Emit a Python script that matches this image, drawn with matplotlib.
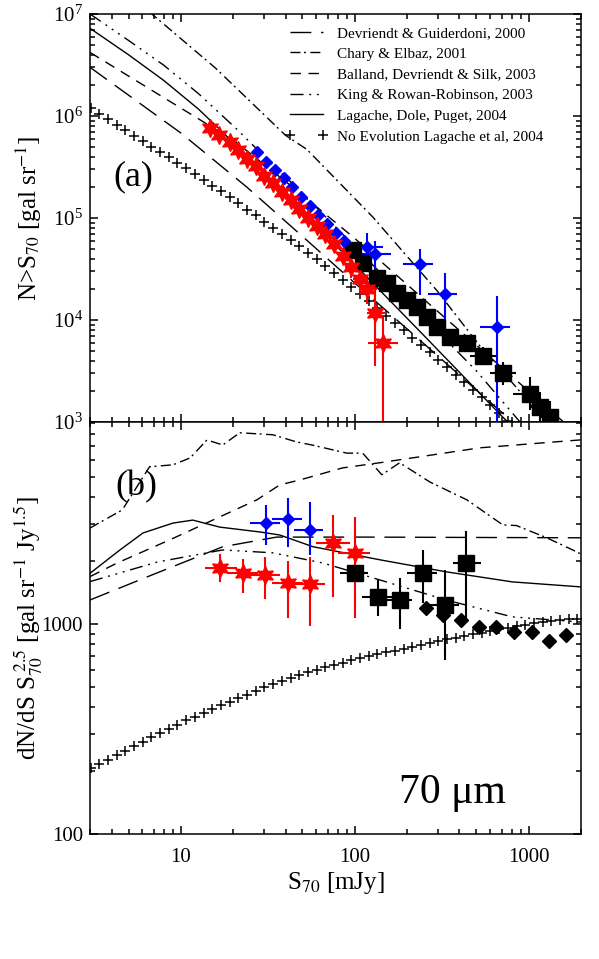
import matplotlib

matplotlib.use("Agg")

import matplotlib.pyplot as plt
import numpy as np
from matplotlib.ticker import FixedLocator, FuncFormatter, LogLocator, NullFormatter

plt.rcParams["font.family"] = ["Liberation Serif", "DejaVu Serif"]
plt.rcParams["mathtext.fontset"] = "stix"

# ---- model curves, panel (a): integral counts N(>S) [gal/sr] vs S [mJy] ----
chary_a_s = [5.0, 6.8, 15.8, 39.8, 53.0, 127, 296, 545, 809, 1259, 1413]
chary_a_n = [1.55e7, 1.0e7, 2.95e6, 6.5e5, 4.7e5, 1.02e5, 1.95e4, 5.1e3, 2.4e3, 1.0e3, 8.0e2]
king_a_s = [3.0, 5.0, 7.94, 12.6, 21.0, 31.6, 50.1, 100, 251, 501, 891, 1000]
king_a_n = [1.0e7, 5.5e6, 3.16e6, 1.66e6, 7.4e5, 3.7e5, 1.74e5, 5.25e4, 1.05e4, 3.16e3,
            1.0e3, 7.9e2]
lag_a_s = [3.0, 5.0, 7.94, 12.6, 20.0, 31.6, 50.1, 107, 259, 708, 891]
lag_a_n = [7.24e6, 3.98e6, 2.24e6, 1.17e6, 5.5e5, 2.51e5, 1.15e5, 3.1e4, 6.6e3, 1.12e3, 7.6e2]
bal_a_s = [3.0, 8.3, 20, 44, 100, 251, 631, 1585, 2000]
bal_a_n = [4.2e6, 1.45e6, 5.8e5, 2.0e5, 6.3e4, 1.58e4, 4.0e3, 1.0e3, 7.1e2]
dev_a_s = [3.0, 10, 24, 50, 100, 251, 631, 891]
dev_a_n = [3.0e6, 6.8e5, 2.0e5, 6.6e4, 2.3e4, 5.8e3, 1.45e3, 8.7e2]

# ---- model curves, panel (b): dN/dS S^2.5 ----
chary_b_s = [3, 4.6, 6.6, 9.0, 11.3, 14.1, 17.4, 21.8, 33.8, 46, 57, 90, 111, 143, 181,
             270, 440, 710, 850, 1270, 1790, 2000]
chary_b_v = [2860, 3490, 5600, 5720, 6170, 7510, 7110, 8130, 7950, 7360, 7100, 6500, 6500,
             5130, 5850, 4740, 3900, 2960, 2940, 2570, 2250, 2150]
bal_b_s = [3, 4.3, 8.6, 27.4, 37, 48.5, 85, 139, 523, 2000]
bal_b_v = [1680, 1950, 2510, 3900, 4590, 4850, 5530, 5850, 6890, 7520]
lag_b_s = [3, 4.46, 6.05, 9.0, 11.7, 16.7, 28.4, 37, 57.5, 139, 335, 805, 2000]
lag_b_v = [1742, 2250, 2710, 3020, 3120, 2890, 2740, 2650, 2330, 2020, 1770, 1585, 1500]
king_b_s = [3, 7.3, 17.4, 33.7, 65.5, 139, 335, 805, 2000]
king_b_v = [1590, 1970, 2250, 2180, 1950, 1620, 1300, 1080, 1020]
dev_b_s = [3, 7.3, 17.4, 35.5, 111, 2000]
dev_b_v = [1300, 1750, 2330, 2590, 2590, 2570]

# ---- no-evolution model (crosses), same flux grid for both panels ----
noev_s = [3.02, 3.39, 3.80, 4.27, 4.79, 5.37, 6.03, 6.76, 7.59, 8.51, 9.55, 10.7, 12.0, 13.5,
          15.1, 17.0, 19.1, 21.4, 24.0, 26.9, 30.2, 33.9, 38.0, 42.7, 47.9, 53.7, 60.3, 67.6,
          75.9, 85.1, 95.5, 107, 120, 135, 151, 170, 191, 214, 240, 269, 302, 339, 380, 427,
          479, 537, 603, 676, 759, 851, 955, 1072, 1202, 1349, 1514, 1698, 1905]
noev_n = [1.19e6, 1.05e6, 9.31e5, 8.22e5, 7.28e5, 6.43e5, 5.69e5, 5.02e5, 4.45e5, 3.93e5,
          3.48e5, 3.06e5, 2.69e5, 2.36e5, 2.07e5, 1.82e5, 1.60e5, 1.39e5, 1.21e5, 1.06e5,
          9.2e4, 8.0e4, 6.98e4, 6.08e4, 5.30e4, 4.57e4, 3.92e4, 3.37e4, 2.88e4, 2.47e4,
          2.12e4, 1.81e4, 1.53e4, 1.30e4, 1.10e4, 9.33e3, 7.92e3, 6.70e3, 5.68e3, 4.80e3,
          4.06e3, 3.44e3, 2.91e3, 2.46e3, 2.08e3, 1.75e3, 1.47e3, 1.23e3, 1.03e3, 871,
          741, 617, 525, 447, 372, 316, 269]
noev_v = [206, 216, 226, 238, 249, 262, 275, 288, 302, 316, 331, 347, 361, 377, 393, 409,
          427, 444, 461, 480, 499, 518, 537, 555, 571, 587, 604, 621, 637, 653, 670, 685,
          701, 716, 731, 746, 762, 778, 794, 811, 828, 843, 859, 875, 891, 908, 925, 942,
          959, 977, 993, 1007, 1021, 1033, 1042, 1052, 1059]

# ---- data, panel (a) ----
red_a_s = [14.7, 16.6, 19.1, 21.4, 24.0, 26.9, 30.2, 33.9, 38.0, 42.7, 47.9, 53.7, 60.3,
           67.6, 75.9, 85.1, 95.5, 107, 117, 130, 145]
red_a_n = [7.6e5, 6.5e5, 5.5e5, 4.6e5, 3.8e5, 3.2e5, 2.6e5, 2.2e5, 1.8e5, 1.5e5, 1.23e5,
           1.0e5, 8.3e4, 6.9e4, 5.5e4, 4.2e4, 3.3e4, 2.5e4, 2.0e4, 1.17e4, 5.9e3]
red_a_nlo = [7.1e5, 6.1e5, 5.1e5, 4.3e5, 3.5e5, 2.95e5, 2.4e5, 2.0e5, 1.65e5, 1.37e5, 1.12e5,
             9.0e4, 7.4e4, 6.0e4, 4.7e4, 3.5e4, 2.6e4, 1.9e4, 1.45e4, 3.5e3, 5e2]
red_a_nhi = [8.1e5, 6.9e5, 5.9e5, 4.9e5, 4.1e5, 3.45e5, 2.8e5, 2.4e5, 1.95e5, 1.63e5, 1.34e5,
             1.1e5, 9.2e4, 7.8e4, 6.3e4, 4.9e4, 4.0e4, 3.1e4, 2.6e4, 2.3e4, 1.07e4]
red_a_slo = [14.7, 16.6, 19.1, 21.4, 24.0, 26.9, 30.2, 33.9, 38.0, 42.7, 47.9, 53.7, 60.3,
             67.6, 75.9, 85.1, 88, 98, 105, 117, 119]
red_a_shi = [14.7, 16.6, 19.1, 21.4, 24.0, 26.9, 30.2, 33.9, 38.0, 42.7, 47.9, 53.7, 60.3,
             67.6, 75.9, 85.1, 104, 117, 134, 151, 177]

blue_a_s = [27.4, 30.9, 34.7, 38.9, 43.7, 49.0, 55.0, 61.7, 69.2, 77.6, 87.1, 117, 130, 237,
            329, 655]
blue_a_n = [4.47e5, 3.55e5, 2.95e5, 2.45e5, 2.0e5, 1.62e5, 1.32e5, 1.07e5, 8.7e4, 7.1e4,
            5.9e4, 5.2e4, 4.4e4, 3.5e4, 1.8e4, 8.5e3]
blue_a_nlo = [4.2e5, 3.3e5, 2.75e5, 2.25e5, 1.83e5, 1.47e5, 1.19e5, 9.5e4, 7.6e4, 6.1e4,
              5.0e4, 3.1e4, 2.3e4, 1.76e4, 5.5e3, 5e2]
blue_a_nhi = [4.75e5, 3.8e5, 3.15e5, 2.65e5, 2.17e5, 1.77e5, 1.45e5, 1.19e5, 9.8e4, 8.1e4,
              6.8e4, 7.1e4, 6.0e4, 5.0e4, 2.9e4, 1.7e4]
blue_a_slo = [27.4, 30.9, 34.7, 38.9, 43.7, 49.0, 55.0, 61.7, 69.2, 77.6, 87.1, 102, 110, 189,
              263, 525]
blue_a_shi = [27.4, 30.9, 34.7, 38.9, 43.7, 49.0, 55.0, 61.7, 69.2, 77.6, 87.1, 145, 162, 281,
              389, 776]

sq_a_s = [97.5, 111, 134, 153, 174, 200, 227, 259, 296, 352, 441, 545, 710, 1014, 1156, 1318]
sq_a_n = [4.9e4, 3.6e4, 2.6e4, 2.3e4, 1.82e4, 1.58e4, 1.35e4, 1.07e4, 8.5e3, 6.8e3, 5.9e3,
          4.4e3, 3.0e3, 1.9e3, 1.4e3, 1.12e3]
sq_a_nlo = [4.9e4, 3.6e4, 2.6e4, 2.3e4, 1.82e4, 1.58e4, 1.35e4, 1.07e4, 8.5e3, 6.8e3, 5.0e3,
            3.6e3, 2.3e3, 1.3e3, 9.0e2, 7.0e2]
sq_a_nhi = [4.9e4, 3.6e4, 2.6e4, 2.3e4, 1.82e4, 1.58e4, 1.35e4, 1.07e4, 8.5e3, 6.8e3, 6.9e3,
            5.4e3, 3.9e3, 2.75e3, 1.95e3, 1.6e3]
sq_a_slo = [97.5, 111, 134, 153, 174, 200, 227, 259, 296, 352, 400, 460, 600, 815, 1020, 1150]
sq_a_shi = [97.5, 111, 134, 153, 174, 200, 227, 259, 296, 352, 490, 650, 850, 1150, 1320, 1500]

# ---- data, panel (b) ----
red_b_s = [16.7, 22.8, 30.4, 41.4, 55.1, 75.0, 100]
red_b_v = [1840, 1740, 1710, 1560, 1550, 2420, 2170]
red_b_vlo = [1585, 1410, 1320, 1070, 980, 1350, 1070]
red_b_vhi = [2140, 2040, 2090, 2000, 2090, 3310, 3240]
red_b_slo = [13.7, 18.3, 24.4, 33.2, 44, 60, 80]
red_b_shi = [20.9, 27.8, 37.1, 50.5, 67, 94, 122]

blue_b_s = [30.8, 41.4, 55.0]
blue_b_v = [3020, 3150, 2810]
blue_b_vlo = [2380, 2330, 2130]
blue_b_vhi = [3690, 3970, 3790]
blue_b_slo = [25, 33.6, 44.7]
blue_b_shi = [37.1, 49.4, 65.8]

sq_b_s = [100, 136, 181, 247, 329, 438]
sq_b_v = [1740, 1350, 1300, 1740, 1230, 1945]
sq_b_vlo = [1650, 1090, 950, 1260, 674, 1045]
sq_b_vhi = [1840, 1620, 1660, 2240, 1810, 2755]
sq_b_slo = [82, 110, 152, 200, 270, 365]
sq_b_shi = [119, 170, 214, 295, 400, 535]

dia_b_s = [258, 321, 410, 518, 651, 824, 1038, 1309, 1648]
dia_b_v = [1190, 1100, 1045, 970, 970, 920, 920, 830, 885]

model_labels = [
    "Devriendt & Guiderdoni, 2000",
    "Chary & Elbaz, 2001",
    "Balland, Devriendt & Silk, 2003",
    "King & Rowan-Robinson, 2003",
    "Lagache, Dole, Puget, 2004",
    "No Evolution Lagache et al, 2004",
]

RED = "#ff0000"
BLUE = "#0000ff"
LW = 1.0
dash_dev = (15, 7)
dash_chary = (7.2, 2.5, 1.4, 3.2)
dash_bal = (7.5, 5.5)
dash_king = (9.4, 4.1, 1.4, 4.1, 1.4, 4.1, 1.4, 4.1)


def draw_models(ax, curves, noev_y):
    handles = []
    for (xs, ys), dashes in zip(curves, [dash_dev, dash_chary, dash_bal, dash_king, None]):
        if dashes is None:
            h, = ax.plot(xs, ys, color="k", lw=LW)
        else:
            h, = ax.plot(xs, ys, color="k", lw=LW, dashes=dashes)
        handles.append(h)
    h, = ax.plot(noev_s, noev_y, ls="none", marker="+", ms=6.5, mew=1.1, color="k")
    handles.append(h)
    return handles


def points(ax, s, y, slo, shi, ylo, yhi, color, marker, ms, z=5):
    s = np.array(s, float)
    y = np.array(y, float)
    ax.errorbar(s, y, xerr=[s - np.array(slo), np.array(shi) - s],
                yerr=[y - np.array(ylo), np.array(yhi) - y],
                fmt="none", ecolor=color, elinewidth=1.5, capsize=0, zorder=z)
    ax.plot(s, y, ls="none", marker=marker, ms=ms, color=color, mec=color, zorder=z + 1)


def style_axis(ax):
    ax.set_xscale("log")
    ax.set_yscale("log")
    ax.set_xlim(3, 2000)
    ax.xaxis.set_major_locator(FixedLocator([10, 100, 1000]))
    ax.xaxis.set_minor_locator(LogLocator(base=10, subs=np.arange(2, 10)))
    ax.xaxis.set_minor_formatter(NullFormatter())
    ax.yaxis.set_minor_formatter(NullFormatter())
    ax.tick_params(which="both", direction="in", top=True, right=True, width=1.1,
                   labelsize=15)
    ax.tick_params(which="major", length=6)
    ax.tick_params(which="minor", length=3.3)
    ax.tick_params(axis="y", pad=5)
    ax.tick_params(axis="x", pad=10)
    for sp in ax.spines.values():
        sp.set_linewidth(1.1)


fig = plt.figure(figsize=(5.99, 9.59), dpi=100)
ax_a = fig.add_axes([0.1503, 0.5600, 0.8197, 0.4254])
ax_b = fig.add_axes([0.1503, 0.1304, 0.8197, 0.4296])

# ---- panel (a) ----
handles = draw_models(ax_a, [(dev_a_s, dev_a_n), (chary_a_s, chary_a_n), (bal_a_s, bal_a_n),
                             (king_a_s, king_a_n), (lag_a_s, lag_a_n)], noev_n)
points(ax_a, sq_a_s, sq_a_n, sq_a_slo, sq_a_shi, sq_a_nlo, sq_a_nhi, "k", "s", 11)
points(ax_a, blue_a_s, blue_a_n, blue_a_slo, blue_a_shi, blue_a_nlo, blue_a_nhi, BLUE, "D", 6.5)
points(ax_a, red_a_s, red_a_n, red_a_slo, red_a_shi, red_a_nlo, red_a_nhi, RED, (6, 1, 0), 13)

style_axis(ax_a)
ax_a.set_ylim(1e3, 1e7)
ax_a.yaxis.set_major_locator(FixedLocator([1e3, 1e4, 1e5, 1e6, 1e7]))
ax_a.yaxis.set_minor_locator(LogLocator(base=10, subs=np.arange(2, 10)))
ax_a.tick_params(axis="x", labelbottom=False)
ax_a.set_ylabel(r"N>S$_{70}$ [gal sr$^{-1}$]", fontsize=18)
ax_a.yaxis.set_label_coords(-0.094, 0.5)
ax_a.text(0.088, 0.60, "(a)", transform=ax_a.transAxes, fontsize=26,
          ha="center", va="center")
ax_a.legend(handles, model_labels, loc="upper left", bbox_to_anchor=(0.397, 0.970),
            frameon=False, fontsize=11, handlelength=2.8, handletextpad=0.6,
            labelspacing=0.46, borderpad=0, borderaxespad=0, numpoints=2)

# ---- panel (b) ----
draw_models(ax_b, [(dev_b_s, dev_b_v), (chary_b_s, chary_b_v), (bal_b_s, bal_b_v),
                   (king_b_s, king_b_v), (lag_b_s, lag_b_v)], noev_v)
ax_b.plot(dia_b_s, dia_b_v, ls="none", marker="D", ms=7, color="k", zorder=6)
points(ax_b, sq_b_s, sq_b_v, sq_b_slo, sq_b_shi, sq_b_vlo, sq_b_vhi, "k", "s", 11)
points(ax_b, blue_b_s, blue_b_v, blue_b_slo, blue_b_shi, blue_b_vlo, blue_b_vhi, BLUE, "D", 6.5)
points(ax_b, red_b_s, red_b_v, red_b_slo, red_b_shi, red_b_vlo, red_b_vhi, RED, (6, 1, 0), 13)

style_axis(ax_b)
ax_b.set_ylim(100, 9150)
ax_b.yaxis.set_major_locator(FixedLocator([100, 1000]))
ax_b.yaxis.set_major_formatter(FuncFormatter(lambda v, p: f"{v:g}"))
ax_b.yaxis.set_minor_locator(LogLocator(base=10, subs=np.arange(2, 10)))
ax_b.xaxis.set_major_formatter(FuncFormatter(lambda v, p: f"{v:g}"))
ax_b.set_ylabel(r"dN/dS S$_{70}^{\ 2.5}$ [gal sr$^{-1}$ Jy$^{1.5}$]", fontsize=18)
ax_b.yaxis.set_label_coords(-0.094, 0.5)
ax_b.set_xlabel(r"S$_{70}$ [mJy]", fontsize=18, labelpad=2)
ax_b.text(0.094, 0.842, "(b)", transform=ax_b.transAxes, fontsize=26,
          ha="center", va="center")
ax_b.text(0.739, 0.10, "70 \u03bcm", transform=ax_b.transAxes, fontsize=30,
          ha="center", va="center")

fig.savefig("out.png", dpi=100)
